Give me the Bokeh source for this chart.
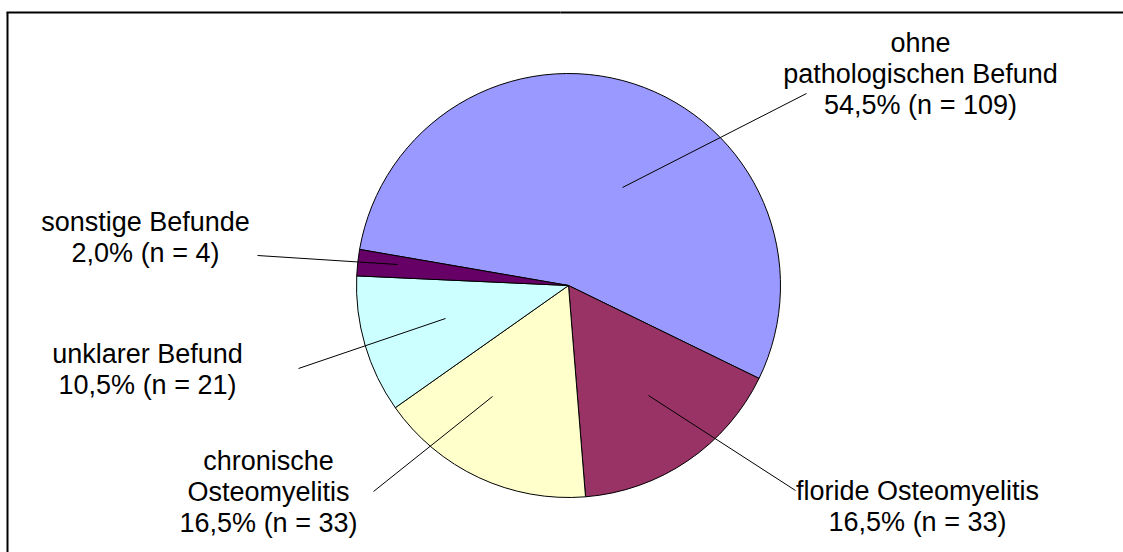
import math
from bokeh.plotting import figure
from bokeh.models import Range1d
from bokeh.core.properties import value
from bokeh.embed import file_html
from bokeh.resources import INLINE

# --- data -------------------------------------------------------------
categories = [
    "ohne pathologischen Befund",
    "floride Osteomyelitis",
    "chronische Osteomyelitis",
    "unklarer Befund",
    "sonstige Befunde",
]
label_lines = [
    ["ohne", "pathologischen Befund"],
    ["floride Osteomyelitis"],
    ["chronische", "Osteomyelitis"],
    ["unklarer Befund"],
    ["sonstige Befunde"],
]
counts = [109, 33, 33, 21, 4]
colors = ["#9999FF", "#993366", "#FFFFCC", "#CCFFFF", "#660066"]

# --- layout (pixel coordinates, origin top-left) -----------------------
W, H = 1123, 552
CX, CY, R = 568, 285, 212
START_DEG = 279.8          # first slice starts here, clockwise from 12 o'clock
FONT = "Liberation Sans"
FONT_SIZE = "27px"
LINE_GAP = 31

# label centre x, centre y of first text line, leader outer end, leader inner end
label_pos = [
    (920, 42, (806, 93), (622, 187)),
    (917, 490, (795, 490), (648, 395)),
    (268, 460, (373, 491), (492, 396)),
    (147, 353, (298, 368), (445, 318)),
    (145, 221, (257, 255), (397, 264)),
]


def sy(y):
    return H - y


p = figure(
    width=W, height=H,
    x_range=Range1d(0, W), y_range=Range1d(0, H),
    x_axis_type=None, y_axis_type=None,
    min_border=0, output_backend="svg", toolbar_location=None,
)
p.grid.visible = False
p.outline_line_color = None
p.background_fill_color = "white"
p.border_fill_color = "white"

# chart area frame: left edge, then the top edge in two pieces
p.line(x=[7, 7], y=[0, sy(12)], line_color="black", line_width=2)
p.line(x=[6, 560], y=[sy(12), sy(12)], line_color="black", line_width=2)
p.line(x=[560, W], y=[sy(12), sy(12)], line_color="black", line_width=2)

# pie slices, drawn clockwise from START_DEG
total = sum(counts)
starts, ends = [], []
acc = START_DEG
for n in counts:
    span = n / total * 360.0
    theta_s, theta_e = acc, acc + span
    starts.append(math.radians(90 - theta_e))
    ends.append(math.radians(90 - theta_s))
    acc = theta_e

p.wedge(
    x=[CX] * len(counts), y=[sy(CY)] * len(counts), radius=R,
    start_angle=starts, end_angle=ends, direction="anticlock",
    fill_color=colors, line_color="black", line_width=1,
)

# leader lines
p.segment(
    x0=[lp[2][0] for lp in label_pos], y0=[sy(lp[2][1]) for lp in label_pos],
    x1=[lp[3][0] for lp in label_pos], y1=[sy(lp[3][1]) for lp in label_pos],
    line_color="black", line_width=1,
)

# labels: name lines followed by "xx,x% (n = N)"
tx, ty, tt = [], [], []
for lines, n, (lx, ly, _, _) in zip(label_lines, counts, label_pos):
    pct = f"{n / total * 100:.1f}".replace(".", ",")
    all_lines = lines + [f"{pct}% (n = {n})"]
    for i, s in enumerate(all_lines):
        tx.append(lx)
        ty.append(sy(ly + i * LINE_GAP))
        tt.append(s)

p.text(
    x=tx, y=ty, text=tt,
    text_font=value(FONT), text_font_size=FONT_SIZE,
    text_align="center", text_baseline="middle", text_color="black",
)

open("out.html", "w").write(file_html(p, INLINE))
